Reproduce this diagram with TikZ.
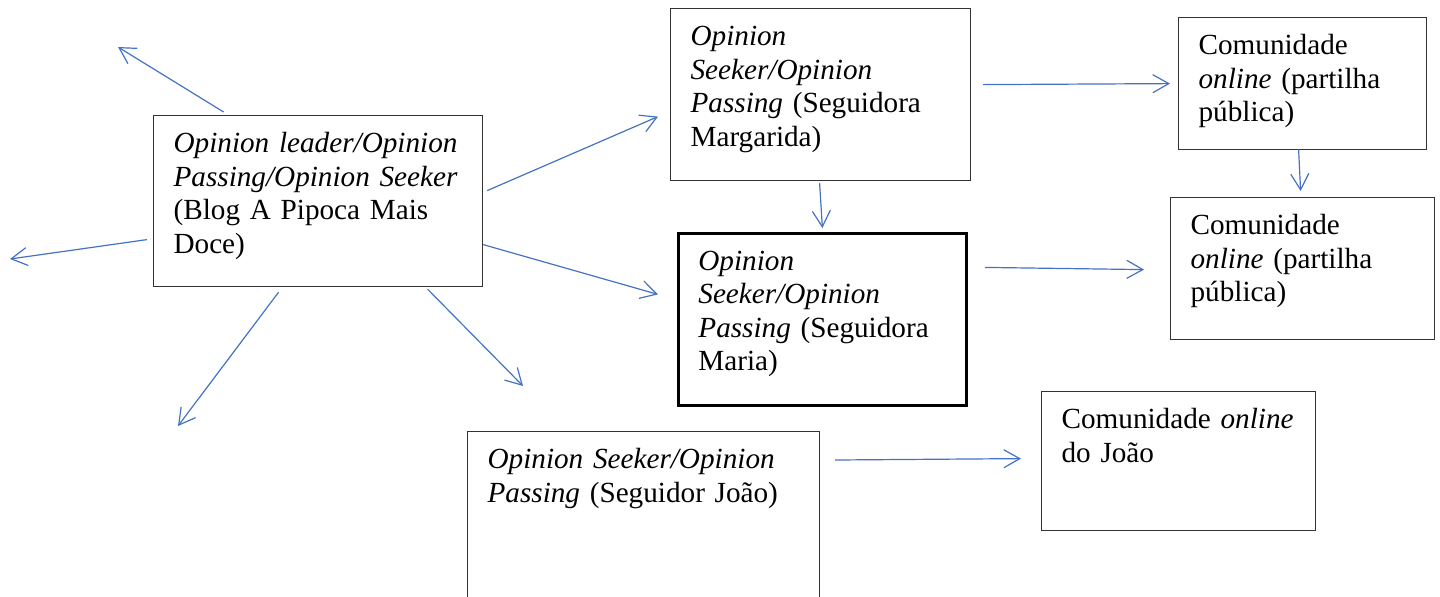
\documentclass[tikz,border=0pt]{standalone}
\usepackage{fontspec}
\setmainfont{Liberation Serif}
\usepackage{tikz}
\usetikzlibrary{arrows.meta,positioning}
\usepackage{xcolor}
\definecolor{arrblue}{RGB}{68,114,196}

\begin{document}
\begin{tikzpicture}[x=0.5pt, y=-0.5pt, font=\fontsize{14.6}{16.75}\selectfont]
\tikzset{
  box/.style={rectangle, draw=black!80, line width=0.6pt, anchor=north west, align=left, inner xsep=10pt, inner ysep=0pt, text height=18.5pt},
  arr/.style={-{Straight Barb[length=8pt,width=9pt]}, draw=arrblue, line width=0.6pt},
}
\clip (0,0) rectangle (1440,596);
\useasboundingbox (0,0) rectangle (1440,596);
\node[box, text width=144.5pt, text depth=67pt] (blog) at (153,115) {\textit{Opinion leader/Opinion}\\\textit{Passing/Opinion Seeker}\\(Blog A Pipoca Mais\\Doce)};
\node[box, text width=130pt, text depth=67.5pt] (marg) at (670,8) {\textit{Opinion}\\\textit{Seeker/Opinion}\\\textit{Passing} (Seguidora\\Margarida)};
\node[box, draw=black, line width=1.4pt, text width=124pt, text depth=67.5pt] (maria) at (677,232) {\textit{Opinion}\\\textit{Seeker/Opinion}\\\textit{Passing} (Seguidora\\Maria)};
\node[box, text width=156pt, text depth=81.5pt] (joao) at (467,431) {\textit{Opinion Seeker/Opinion}\\\textit{Passing} (Seguidor João)};
\node[box, text width=104pt, text depth=47.5pt] (com1) at (1178,17) {Comunidade\\\textit{online} (partilha\\pública)};
\node[box, text width=112pt, text depth=52.5pt] (com2) at (1170,197) {Comunidade\\\textit{online} (partilha\\pública)};
\node[box, text width=117pt, text depth=51pt] (com3) at (1041,391) {Comunidade \textit{online}\\do João};
\coordinate (ul) at (118,47);
\coordinate (l) at (10,259);
\coordinate (dl) at (178,426);
\coordinate (dr) at (523,386);
\draw[arr] ([xshift=-47.25pt, yshift=1.5pt]blog.north) -- (ul);
\draw[arr] ([xshift=-3pt, yshift=-19.25pt]blog.west) -- (l);
\draw[arr] ([xshift=-19.75pt, yshift=-2.5pt]blog.south) -- (dl);
\draw[arr] ([xshift=54.75pt, yshift=-1pt]blog.south) -- (dr);
\draw[arr] ([xshift=2pt, yshift=5.25pt]blog.east) -- ([xshift=-6pt, yshift=-11pt]marg.west);
\draw[arr] ([yshift=-21.75pt]blog.east) -- ([xshift=-9.5pt, yshift=12.5pt]maria.west);
\draw[arr] ([xshift=-0.5pt, yshift=-1pt]marg.south) -- ([yshift=2pt]maria.north);
\draw[arr] ([xshift=6pt, yshift=5pt]marg.east) -- ([xshift=-4pt]com1.west);
\draw[arr] ([xshift=8.5pt, yshift=26pt]maria.east) -- ([xshift=-13pt, yshift=-0.5pt]com2.west);
\draw[arr] ([xshift=-2pt, yshift=0.5pt]com1.south) -- ([xshift=-1pt, yshift=3pt]com2.north);
\draw[arr] ([xshift=7.5pt, yshift=-14.5pt]joao.north east) -- ([xshift=-10pt, yshift=1.25pt]com3.west);
\end{tikzpicture}
\end{document}
